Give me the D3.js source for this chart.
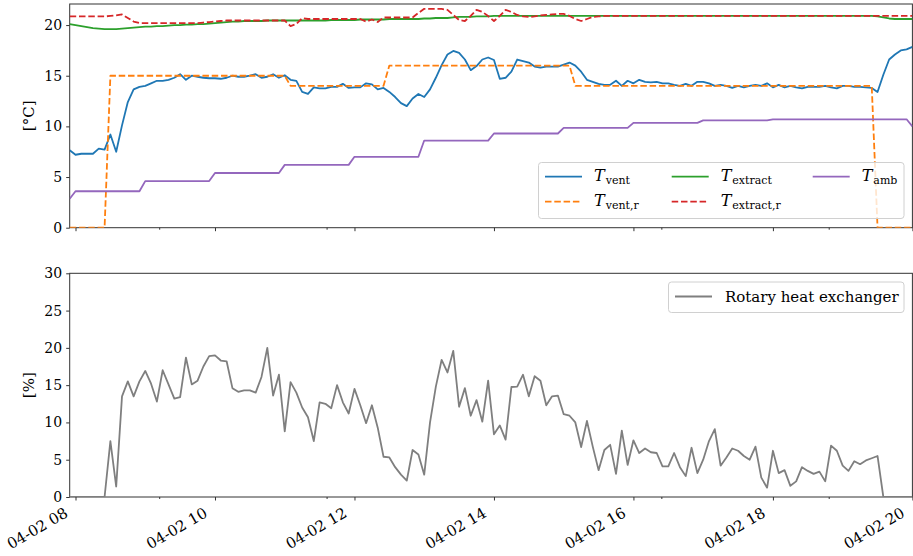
<!DOCTYPE html>
<html>
<head>
<meta charset="utf-8">
<script src="https://cdn.jsdelivr.net/npm/d3@7"></script>
<style>
	html, body { margin: 0; padding: 0; background: #fff; }
	svg { display: block; }
	text { font-family: "DejaVu Serif", serif; fill: #000; }
</style>
</head>
<body>
<div id="chart"></div>
<script>
(function () {

	'use strict';

	// samples every 5 minutes, starting 04-02 07:55
	const startTime = new Date(2000, 3, 2, 7, 55);
	const stepMinutes = 5;

	// ventilation supply temperature
	const tVent = [
		7.65, 7.2, 7.3, 7.3, 7.3, 7.8, 7.7, 9.2, 7.5, 10.1,
		12.4, 13.65, 13.9, 14.0, 14.25, 14.5, 14.5, 14.6, 14.8, 15.15,
		14.6, 15.0, 14.9, 14.8, 14.75, 14.75, 14.7, 14.8, 15.0, 14.9,
		14.9, 15.0, 15.15, 14.8, 14.9, 15.15, 14.8, 15.05, 14.6, 14.5,
		13.4, 13.2, 13.85, 13.75, 13.75, 13.9, 13.9, 14.2, 13.8, 13.85,
		13.85, 14.25, 14.15, 13.65, 13.8, 13.4, 12.9, 12.3, 12.0, 12.75,
		13.2, 12.9, 13.65, 14.8, 16.05, 17.1, 17.45, 17.25, 16.6, 15.55,
		15.95, 16.6, 16.8, 16.55, 14.7, 14.8, 15.4, 16.6, 16.45, 16.3,
		15.9, 15.8, 15.9, 15.9, 15.9, 16.1, 16.3, 16.0, 15.4, 14.6,
		14.4, 14.2, 14.1, 14.1, 14.5, 14.0, 14.5, 14.25, 14.6, 14.4,
		14.35, 14.4, 14.25, 14.25, 14.1, 14.0, 14.2, 14.0, 14.4, 14.4,
		14.25, 14.0, 14.1, 14.0, 13.8, 14.0, 13.85, 14.0, 14.1, 14.0,
		14.25, 13.85, 14.1, 13.85, 14.0, 13.85, 13.75, 13.9, 13.9, 13.9,
		14.0, 13.85, 13.75, 14.0, 14.0, 13.9, 13.9, 13.85, 13.8, 13.4,
		15.1, 16.6, 17.1, 17.5, 17.6, 17.85
	];

	// ventilation supply setpoint
	const tVentR = [
		0, 0, 0, 0, 0, 0, 0, 15, 15, 15,
		15, 15, 15, 15, 15, 15, 15, 15, 15, 15,
		15, 15, 15, 15, 15, 15, 15, 15, 15, 15,
		15, 15, 15, 15, 15, 15, 15, 15, 14, 14,
		14, 14, 14, 14, 14, 14, 14, 14, 14, 14,
		14, 14, 14, 14, 14, 16, 16, 16, 16, 16,
		16, 16, 16, 16, 16, 16, 16, 16, 16, 16,
		16, 16, 16, 16, 16, 16, 16, 16, 16, 16,
		16, 16, 16, 16, 16, 16, 16, 14, 14, 14,
		14, 14, 14, 14, 14, 14, 14, 14, 14, 14,
		14, 14, 14, 14, 14, 14, 14, 14, 14, 14,
		14, 14, 14, 14, 14, 14, 14, 14, 14, 14,
		14, 14, 14, 14, 14, 14, 14, 14, 14, 14,
		14, 14, 14, 14, 14, 14, 14, 14, 14, 0,
		0, 0, 0, 0, 0, 0
	];

	// extract air temperature
	const tExtract = [
		20.1, 20.0, 19.9, 19.8, 19.7, 19.65, 19.6, 19.6, 19.6, 19.65,
		19.7, 19.75, 19.8, 19.85, 19.85, 19.9, 19.9, 19.95, 20.0, 20.0,
		20.05, 20.05, 20.1, 20.1, 20.15, 20.2, 20.25, 20.3, 20.35, 20.35,
		20.4, 20.4, 20.4, 20.4, 20.45, 20.45, 20.45, 20.45, 20.45, 20.45,
		20.45, 20.45, 20.45, 20.45, 20.45, 20.5, 20.5, 20.5, 20.5, 20.5,
		20.55, 20.55, 20.55, 20.55, 20.55, 20.6, 20.6, 20.6, 20.6, 20.6,
		20.6, 20.65, 20.65, 20.7, 20.7, 20.7, 20.75, 20.8, 20.8, 20.8,
		20.85, 20.85, 20.85, 20.9, 20.9, 20.9, 20.9, 20.9, 20.9, 20.9,
		20.9, 20.9, 20.9, 20.9, 20.9, 20.9, 20.9, 20.9, 20.9, 20.9,
		20.9, 20.9, 20.9, 20.9, 20.9, 20.9, 20.9, 20.9, 20.9, 20.9,
		20.9, 20.9, 20.9, 20.9, 20.9, 20.9, 20.9, 20.9, 20.9, 20.9,
		20.9, 20.9, 20.9, 20.9, 20.9, 20.9, 20.9, 20.9, 20.9, 20.9,
		20.9, 20.9, 20.9, 20.9, 20.9, 20.9, 20.9, 20.9, 20.9, 20.9,
		20.9, 20.9, 20.9, 20.9, 20.9, 20.9, 20.9, 20.9, 20.9, 20.85,
		20.75, 20.65, 20.6, 20.6, 20.6, 20.6
	];

	// extract air setpoint
	const tExtractR = [
		20.85, 20.85, 20.85, 20.85, 20.85, 20.85, 20.85, 20.9, 20.95, 21.05,
		20.7, 20.35, 20.2, 20.2, 20.2, 20.2, 20.2, 20.2, 20.2, 20.2,
		20.2, 20.2, 20.2, 20.25, 20.3, 20.35, 20.4, 20.45, 20.45, 20.45,
		20.45, 20.45, 20.45, 20.45, 20.45, 20.45, 20.45, 20.45, 19.9, 20.1,
		20.7, 20.6, 20.6, 20.6, 20.6, 20.6, 20.6, 20.6, 20.6, 20.6,
		20.6, 20.35, 20.55, 20.3, 20.75, 20.75, 20.75, 20.75, 20.75, 20.75,
		21.2, 21.6, 21.6, 21.6, 21.6, 21.5, 21.0, 20.5, 20.4, 20.9,
		21.5, 21.3, 20.9, 20.4, 20.9, 21.5, 21.3, 21.0, 20.85, 20.8,
		20.85, 20.95, 21.0, 21.05, 21.1, 21.1, 20.9, 20.6, 20.4, 20.6,
		20.8, 20.85, 20.9, 20.9, 20.9, 20.9, 20.9, 20.9, 20.9, 20.9,
		20.9, 20.9, 20.9, 20.9, 20.9, 20.9, 20.9, 20.9, 20.9, 20.9,
		20.9, 20.9, 20.9, 20.9, 20.9, 20.9, 20.9, 20.9, 20.9, 20.9,
		20.9, 20.9, 20.9, 20.9, 20.9, 20.9, 20.9, 20.9, 20.9, 20.9,
		20.9, 20.9, 20.9, 20.9, 20.9, 20.9, 20.9, 20.9, 20.9, 20.9,
		20.9, 20.9, 20.9, 20.9, 20.9, 20.9
	];

	// ambient temperature
	const tAmb = [
		2.85, 3.6, 3.6, 3.6, 3.6, 3.6, 3.6, 3.6, 3.6, 3.6,
		3.6, 3.6, 3.6, 4.6, 4.6, 4.6, 4.6, 4.6, 4.6, 4.6,
		4.6, 4.6, 4.6, 4.6, 4.6, 5.4, 5.4, 5.4, 5.4, 5.4,
		5.4, 5.4, 5.4, 5.4, 5.4, 5.4, 5.4, 6.2, 6.2, 6.2,
		6.2, 6.2, 6.2, 6.2, 6.2, 6.2, 6.2, 6.2, 6.2, 7.0,
		7.0, 7.0, 7.0, 7.0, 7.0, 7.0, 7.0, 7.0, 7.0, 7.0,
		7.0, 8.6, 8.6, 8.6, 8.6, 8.6, 8.6, 8.6, 8.6, 8.6,
		8.6, 8.6, 8.6, 9.3, 9.3, 9.3, 9.3, 9.3, 9.3, 9.3,
		9.3, 9.3, 9.3, 9.3, 9.3, 9.85, 9.85, 9.85, 9.85, 9.85,
		9.85, 9.85, 9.85, 9.85, 9.85, 9.85, 9.85, 10.35, 10.35, 10.35,
		10.35, 10.35, 10.35, 10.35, 10.35, 10.35, 10.35, 10.35, 10.35, 10.6,
		10.6, 10.6, 10.6, 10.6, 10.6, 10.6, 10.6, 10.6, 10.6, 10.6,
		10.6, 10.7, 10.7, 10.7, 10.7, 10.7, 10.7, 10.7, 10.7, 10.7,
		10.7, 10.7, 10.7, 10.7, 10.7, 10.7, 10.7, 10.7, 10.7, 10.7,
		10.7, 10.7, 10.7, 10.7, 10.7, 10.0
	];

	// rotary heat exchanger [%]
	const rotary = [
		0, 0, 0, 0, 0, 0, 0, 7.5, 1.4, 13.5,
		15.5, 13.5, 15.5, 16.9, 15.2, 12.8, 17.0, 15.1, 13.2, 13.4,
		18.7, 15.1, 15.6, 17.5, 18.9, 19.0, 18.3, 18.2, 14.6, 14.1,
		14.3, 14.3, 14.0, 16.1, 20.0, 13.6, 16.4, 8.8, 15.4, 14.0,
		12.0, 10.7, 7.5, 12.7, 12.5, 11.9, 15.0, 12.7, 11.2, 14.5,
		12.3, 9.9, 12.3, 9.3, 5.4, 5.3, 4.0, 3.0, 2.2, 6.3,
		5.7, 3.0, 10.0, 14.8, 18.4, 16.7, 19.6, 12.1, 14.6, 10.9,
		13.0, 10.1, 15.6, 8.4, 9.6, 7.7, 14.75, 14.8, 16.4, 13.5,
		16.2, 15.6, 12.3, 13.5, 13.6, 11.1, 10.9, 10.0, 6.7, 10.2,
		6.75, 3.6, 6.3, 7.0, 3.1, 8.9, 4.3, 7.6, 5.9, 6.5,
		6.0, 5.9, 4.1, 4.1, 5.9, 4.0, 2.8, 6.6, 3.2, 5.0,
		7.5, 9.1, 4.2, 5.3, 6.5, 6.2, 5.5, 5.0, 6.75, 2.6,
		1.25, 6.2, 3.2, 3.6, 1.5, 2.1, 4.0, 3.5, 3.1, 3.4,
		2.1, 6.9, 6.2, 4.2, 3.5, 4.8, 4.4, 4.9, 5.2, 5.5,
		0, 0, 0, 0, 0, 0
	];

	const topTicks = [0, 5, 10, 15, 20];
	const bottomTicks = [0, 5, 10, 15, 20, 25, 30];
	const majorHours = [8, 10, 12, 14, 16, 18, 20];
	const minorTimes = [[9, 12], [11, 36], [16, 24], [18, 48]];

	const tempSeries = [
		{ key: 'vent', values: tVent, color: '#1f77b4', dash: null, sub: 'vent', col: 0, row: 0 },
		{ key: 'ventr', values: tVentR, color: '#ff7f0e', dash: '6.5,2.8', sub: 'vent,r', col: 0, row: 1 },
		{ key: 'extract', values: tExtract, color: '#2ca02c', dash: null, sub: 'extract', col: 1, row: 0 },
		{ key: 'extractr', values: tExtractR, color: '#d62728', dash: '6.5,2.8', sub: 'extract,r', col: 1, row: 1 },
		{ key: 'amb', values: tAmb, color: '#9467bd', dash: null, sub: 'amb', col: 2, row: 0 }
	];

	/* -------------------------- layout --------------------------------*/

	let width = 913, height = 556;
	let left = 69.7, right = 912.4;
	let top1 = 4, bottom1 = 227.7;
	let top2 = 273.3, bottom2 = 497;

	let svg = d3.select('#chart').append('svg')
		.attr('width', width)
		.attr('height', height);

	let times = tVent.map(function (d, i) {
		return d3.timeMinute.offset(startTime, i * stepMinutes);
	});

	let x = d3.scaleTime()
		.domain([startTime, new Date(2000, 3, 2, 20, 0)])
		.range([left, right]);

	let y1 = d3.scaleLinear().domain([0, 22.08]).range([bottom1, top1]);
	let y2 = d3.scaleLinear().domain([0, 30]).range([bottom2, top2]);

	let majorValues = majorHours.map(function (h) { return new Date(2000, 3, 2, h, 0); });
	let minorValues = minorTimes.map(function (t) { return new Date(2000, 3, 2, t[0], t[1]); });

	// clip paths so lines at 0 get cut like in the original
	let defs = svg.append('defs');
	defs.append('clipPath').attr('id', 'clip1').append('rect')
		.attr('x', left).attr('y', top1).attr('width', right - left).attr('height', bottom1 - top1);
	defs.append('clipPath').attr('id', 'clip2').append('rect')
		.attr('x', left).attr('y', top2).attr('width', right - left).attr('height', bottom2 - top2);

	function drawAxes(yScale, yTicks, yTop, yBottom, showLabels, ylabel) {

		let g = svg.append('g');

		// minor x ticks
		g.append('g')
			.attr('transform', 'translate(0,' + yBottom + ')')
			.call(d3.axisBottom(x).tickValues(minorValues).tickSize(2).tickFormat(''))
			.call(function (s) { s.select('.domain').remove(); s.selectAll('line').attr('stroke', '#333'); });

		// major x ticks
		let xa = g.append('g')
			.attr('transform', 'translate(0,' + yBottom + ')')
			.call(d3.axisBottom(x).tickValues(majorValues).tickSize(3.5)
				.tickFormat(showLabels ? d3.timeFormat('%m-%d %H') : ''));
		xa.select('.domain').remove();
		xa.selectAll('line').attr('stroke', '#333');
		xa.selectAll('text')
			.attr('font-family', '"DejaVu Serif", serif')
			.attr('font-size', '15px')
			.attr('text-anchor', 'end')
			.attr('x', null).attr('y', null).attr('dy', null)
			.attr('transform', 'translate(-7,19) rotate(-30)');

		// y ticks
		let ya = g.append('g')
			.attr('transform', 'translate(' + left + ',0)')
			.call(d3.axisLeft(yScale).tickValues(yTicks).tickSize(3.5).tickPadding(4));
		ya.select('.domain').remove();
		ya.selectAll('line').attr('stroke', '#333');
		ya.selectAll('text')
			.attr('font-family', '"DejaVu Serif", serif')
			.attr('font-size', '14px');

		// frame
		g.append('rect')
			.attr('x', left).attr('y', yTop)
			.attr('width', right - left).attr('height', yBottom - yTop)
			.attr('fill', 'none').attr('stroke', '#333').attr('stroke-width', 1);

		g.append('text')
			.attr('transform', 'translate(34,' + ((yTop + yBottom) / 2) + ') rotate(-90)')
			.attr('text-anchor', 'middle')
			.attr('font-size', '15px')
			.text(ylabel);
	}

	drawAxes(y1, topTicks, top1, bottom1, false, '[°C]');
	drawAxes(y2, bottomTicks, top2, bottom2, true, '[%]');

	/* -------------------------- lines --------------------------------*/

	let lines1 = svg.append('g').attr('clip-path', 'url(#clip1)');

	tempSeries.forEach(function (s) {
		let line = d3.line()
			.x(function (d, i) { return x(times[i]); })
			.y(function (d) { return y1(d); });
		lines1.append('path')
			.datum(s.values)
			.attr('fill', 'none')
			.attr('stroke', s.color)
			.attr('stroke-width', 1.8)
			.attr('stroke-dasharray', s.dash)
			.attr('stroke-linejoin', 'round')
			.attr('d', line);
	});

	let lines2 = svg.append('g').attr('clip-path', 'url(#clip2)');

	lines2.append('path')
		.datum(rotary)
		.attr('fill', 'none')
		.attr('stroke', '#7f7f7f')
		.attr('stroke-width', 1.8)
		.attr('stroke-linejoin', 'round')
		.attr('d', d3.line()
			.x(function (d, i) { return x(times[i]); })
			.y(function (d) { return y2(d); }));

	/* -------------------------- legends --------------------------------*/

	let leg1 = svg.append('g');
	leg1.append('rect')
		.attr('x', 538.5).attr('y', 162.5).attr('width', 365.5).attr('height', 56)
		.attr('rx', 3).attr('fill', '#fff').attr('fill-opacity', 0.8)
		.attr('stroke', '#d0d0d0').attr('stroke-width', 1);

	let colX = [545, 671.7, 812.7];
	let rowY = [176.7, 201.7];

	tempSeries.forEach(function (s) {
		let lx = colX[s.col], ly = rowY[s.row];
		leg1.append('line')
			.attr('x1', lx).attr('x2', lx + 37)
			.attr('y1', ly).attr('y2', ly)
			.attr('stroke', s.color).attr('stroke-width', 1.8)
			.attr('stroke-dasharray', s.dash);
		let t = leg1.append('text')
			.attr('x', lx + 49).attr('y', ly + 4)
			.attr('font-size', '16px');
		t.append('tspan').attr('font-style', 'italic').text('T');
		t.append('tspan').attr('font-size', '11px').attr('dy', 3.5).attr('dx', 1).text(s.sub);
	});

	let leg2 = svg.append('g');
	leg2.append('rect')
		.attr('x', 668.5).attr('y', 282).attr('width', 235.5).attr('height', 30.5)
		.attr('rx', 3).attr('fill', '#fff').attr('fill-opacity', 0.8)
		.attr('stroke', '#d0d0d0').attr('stroke-width', 1);
	leg2.append('line')
		.attr('x1', 675).attr('x2', 712)
		.attr('y1', 296.5).attr('y2', 296.5)
		.attr('stroke', '#7f7f7f').attr('stroke-width', 1.8);
	leg2.append('text')
		.attr('x', 725).attr('y', 302)
		.attr('font-size', '15px')
		.text('Rotary heat exchanger');

})();
</script>
</body>
</html>
